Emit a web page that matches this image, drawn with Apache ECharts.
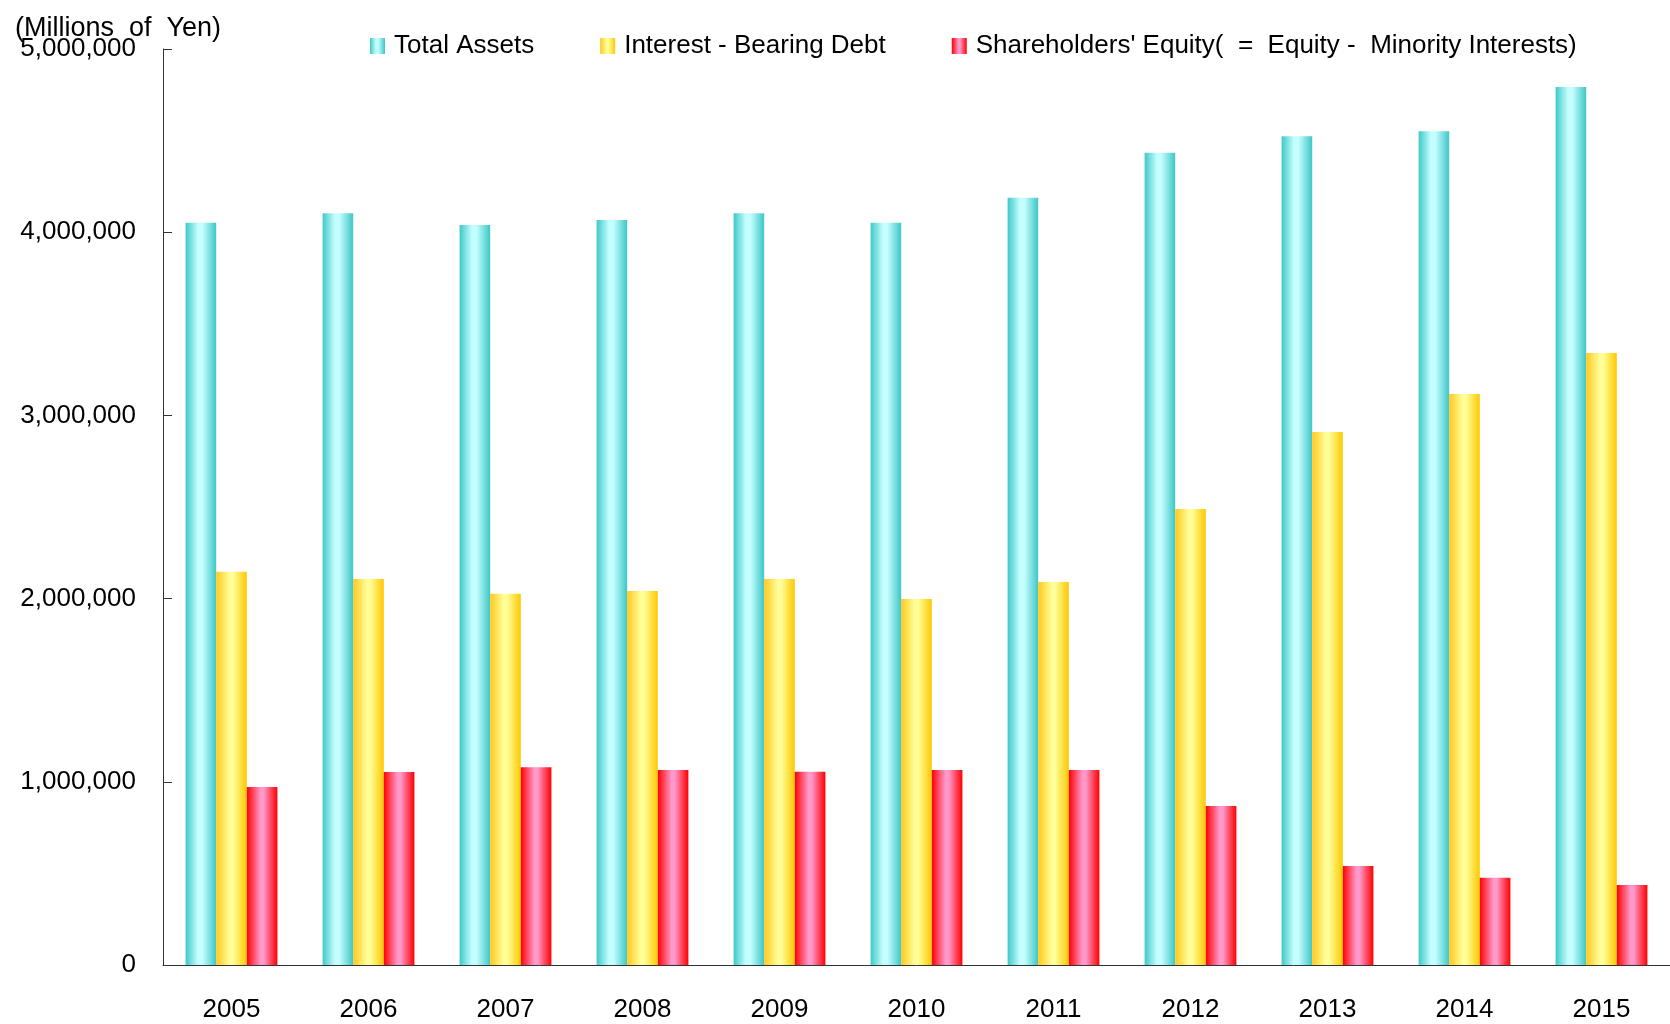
<!DOCTYPE html>
<html>
<head>
<meta charset="utf-8">
<script src="https://cdn.jsdelivr.net/npm/echarts@6/dist/echarts.min.js"></script>
<style>
  html, body { margin: 0; padding: 0; background: #ffffff; }
  #main { width: 1670px; height: 1024px; }
</style>
</head>
<body>
<div id="main"></div>
<script>
var years = ['2005', '2006', '2007', '2008', '2009', '2010', '2011', '2012', '2013', '2014', '2015'];
var totalAssets = [4051000, 4104000, 4039000, 4066000, 4104000, 4051000, 4188000, 4433000, 4524000, 4551000, 4792000];
var interestDebt = [2146000, 2107000, 2026000, 2042000, 2107000, 1998000, 2091000, 2489000, 2910000, 3117000, 3341000];
var equity = [971000, 1053000, 1080000, 1064000, 1055000, 1064000, 1064000, 868000, 541000, 476000, 437000];
var seriesNames = ['Total Assets', 'Interest - Bearing Debt', "Shareholders' Equity(  =  Equity -  Minority Interests)"];

var chart = echarts.init(document.getElementById('main'));
var font = 'Liberation Sans, Arial, sans-serif';

// horizontal gradients like the original cylinder-ish bars
function grad(stops) {
    return new echarts.graphic.LinearGradient(0, 0, 1, 0, stops.map(function (s) {
        return { offset: s[0], color: s[1] };
    }));
}
var cyan = grad([[0, '#3ec8c8'], [0.4, '#c4fefe'], [0.55, '#c4fefe'], [1, '#3ec6c6']]);
var yellow = grad([[0, '#ffc81e'], [0.45, '#ffff99'], [0.55, '#ffff99'], [1, '#ffc800']]);
var red = grad([[0, '#ff0000'], [0.45, '#ff99cc'], [0.55, '#ff99cc'], [1, '#ff0000']]);

var option = {
    backgroundColor: '#ffffff',
    animation: false,
    textStyle: { fontFamily: font },
    title: {
        text: '(Millions  of  Yen)',
        left: 10,
        top: 10,
        textStyle: { fontFamily: font, fontSize: 27, fontWeight: 'normal', color: '#000' }
    },
    legend: {
        left: 365,
        top: 28,
        itemWidth: 15,
        itemHeight: 16,
        itemGap: 66,
        icon: 'rect',
        textStyle: { fontFamily: font, fontSize: 26, color: '#000', padding: [0, 0, 0, 4] },
        data: seriesNames
    },
    grid: {
        left: 163,
        right: 0,
        top: 49,
        bottom: 59
    },
    xAxis: {
        type: 'category',
        data: years,
        axisLine: { lineStyle: { color: '#333', width: 1 } },
        axisTick: { inside: true, length: 9, lineStyle: { color: '#333' } },
        axisLabel: { margin: 32, fontSize: 26, color: '#000', fontFamily: font }
    },
    yAxis: {
        type: 'value',
        min: 0,
        max: 5000000,
        interval: 1000000,
        axisLine: { show: true, lineStyle: { color: '#333', width: 1 } },
        axisTick: { show: true, inside: true, length: 9, lineStyle: { color: '#333' } },
        splitLine: { show: false },
        axisLabel: {
            margin: 27,
            fontSize: 26,
            color: '#000',
            fontFamily: font,
            formatter: function (v) { return v.toLocaleString('en-US'); }
        }
    },
    series: [
        {
            name: seriesNames[0],
            type: 'bar',
            barGap: '0%',
            barCategoryGap: '33%',
            itemStyle: { color: cyan },
            data: totalAssets
        },
        {
            name: seriesNames[1],
            type: 'bar',
            barGap: '0%',
            barCategoryGap: '33%',
            itemStyle: { color: yellow },
            data: interestDebt
        },
        {
            name: seriesNames[2],
            type: 'bar',
            barGap: '0%',
            barCategoryGap: '33%',
            itemStyle: { color: red },
            data: equity
        }
    ]
};
chart.setOption(option);

window.onresize = function () {
    chart.resize();
};
</script>
</body>
</html>
